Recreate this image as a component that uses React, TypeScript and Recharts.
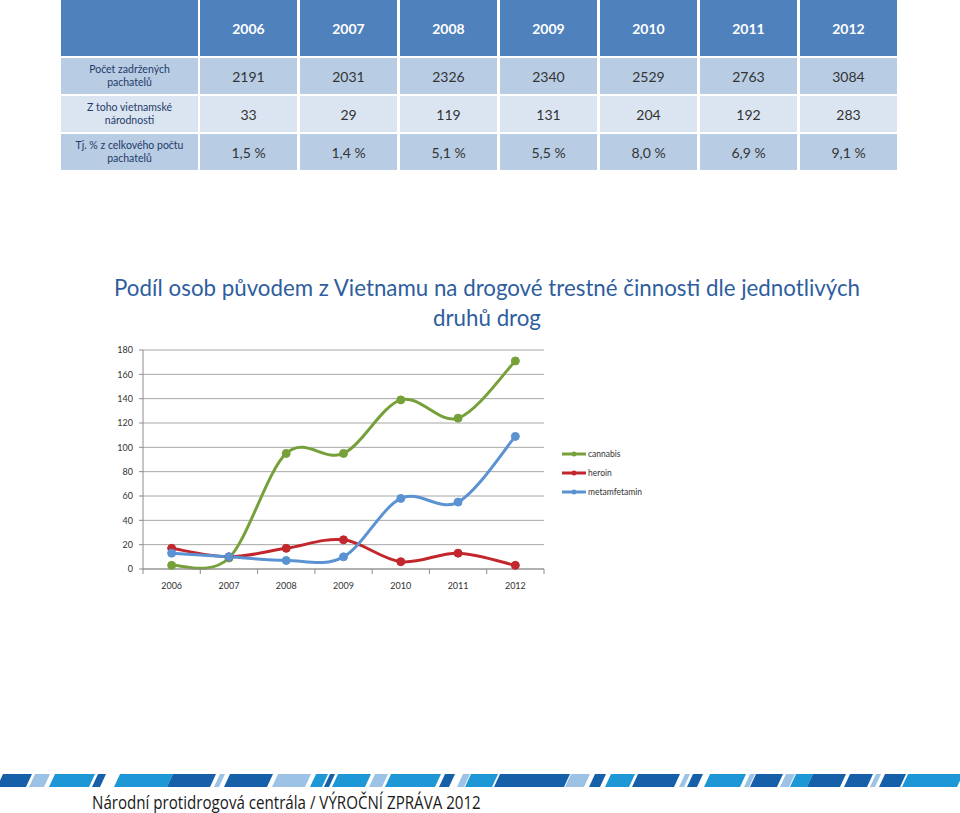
import React from 'react';
import { LineChart, Line, XAxis, YAxis, CartesianGrid, Legend } from 'recharts';

// table data
const years = ['2006', '2007', '2008', '2009', '2010', '2011', '2012'];
const rowLabels = [
  ['Počet zadržených', 'pachatelů'],
  ['Z toho vietnamské', 'národnosti'],
  ['Tj. % z celkového počtu', 'pachatelů'],
];
const arrested = ['2191', '2031', '2326', '2340', '2529', '2763', '3084'];
const vietnamese = ['33', '29', '119', '131', '204', '192', '283'];
const share = ['1,5 %', '1,4 %', '5,1 %', '5,5 %', '8,0 %', '6,9 %', '9,1 %'];

// chart series
const cannabis = [3, 9, 95, 95, 139, 124, 171];
const heroin = [17, 10, 17, 24, 6, 13, 3];
const metamfetamin = [13, 10, 7, 10, 58, 55, 109];
const yTicks = [0, 20, 40, 60, 80, 100, 120, 140, 160, 180];

const series = [
  { key: 'cannabis', color: '#76a13a' },
  { key: 'heroin', color: '#c1272d' },
  { key: 'metamfetamin', color: '#5a92d2' },
];

const data = years.map((year, i) => ({
  i,
  year,
  cannabis: cannabis[i],
  heroin: heroin[i],
  metamfetamin: metamfetamin[i],
}));

// category centres get labels, the half steps get the small tick marks
const xTicks = years.flatMap((_, i) => [i - 0.5, i]).concat(years.length - 0.5);

// footer stripe: [from, to, shade]
const stripe: [number, number, number][] = [
  [0, 29, 0], [32, 47, 2], [52, 92, 1], [95, 103, 0], [117, 170, 1], [170, 213, 0],
  [217, 222, 2], [227, 270, 0], [275, 308, 2], [313, 325, 1], [327, 332, 0],
  [335, 368, 1], [372, 385, 2], [388, 438, 1], [442, 452, 0], [460, 467, 2],
  [468, 495, 1], [497, 567, 0], [568, 587, 2], [592, 603, 0], [608, 632, 1],
  [635, 677, 0], [682, 687, 2], [690, 700, 0], [707, 743, 1], [747, 752, 2],
  [753, 780, 0], [783, 792, 2], [793, 810, 1], [810, 843, 0], [847, 870, 0],
  [873, 878, 2], [882, 903, 0], [905, 960, 1],
];
const stripeColors = ['#1560a9', '#1d97d5', '#9cc2e6'];

// Excel-like smoothed line (Catmull-Rom through the points)
const excelSmooth = (context: any) => {
  let pts: number[][] = [];
  return {
    areaStart() {},
    areaEnd() {},
    lineStart() {
      pts = [];
    },
    lineEnd() {
      if (!pts.length) return;
      context.moveTo(pts[0][0], pts[0][1]);
      for (let k = 0; k < pts.length - 1; k++) {
        const p0 = pts[Math.max(k - 1, 0)];
        const p1 = pts[k];
        const p2 = pts[k + 1];
        const p3 = pts[Math.min(k + 2, pts.length - 1)];
        context.bezierCurveTo(
          p1[0] + (p2[0] - p0[0]) / 6,
          p1[1] + (p2[1] - p0[1]) / 6,
          p2[0] - (p3[0] - p1[0]) / 6,
          p2[1] - (p3[1] - p1[1]) / 6,
          p2[0],
          p2[1]
        );
      }
    },
    point(x: number, y: number) {
      pts.push([+x, +y]);
    },
  };
};

const XTick = ({ x, y, payload }: any) => {
  const v = payload.value;
  if (Number.isInteger(v)) {
    return (
      <text x={x} y={y + 20} textAnchor="middle" fontSize={9} fill="#333">
        {years[v]}
      </text>
    );
  }
  return <line x1={x} x2={x} y1={y} y2={y + 5} stroke="#8c8c8c" />;
};

const LegendBox = () => (
  <div>
    {series.map((s) => (
      <div key={s.key} style={{ display: 'flex', alignItems: 'center', height: 19 }}>
        <svg width={24} height={8}>
          <line x1={0} x2={24} y1={4} y2={4} stroke={s.color} strokeWidth={3} />
          <circle cx={12} cy={4} r={2.5} fill={s.color} />
        </svg>
        <span style={{ fontSize: 8.5, color: '#333', marginLeft: 2 }}>{s.key}</span>
      </div>
    ))}
  </div>
);

const rowTops = [58, 96, 134];
const rowBg = ['#b8cce4', '#dbe5f1', '#b8cce4'];
const rowValues = [arrested, vietnamese, share];

const App: React.FC = () => {
  return (
    <div
      style={{
        position: 'absolute',
        left: 0,
        top: 0,
        width: 960,
        height: 813,
        background: '#fff',
        overflow: 'hidden',
        fontFamily: 'Lato, "Open Sans", sans-serif',
      }}
    >
      {/* table */}
      <div style={{ position: 'absolute', left: 61, top: 0, width: 137, height: 56, background: '#4f81bd' }} />
      {years.map((y, c) => (
        <div
          key={y}
          style={{
            position: 'absolute',
            left: 200 + c * 100,
            top: 0,
            width: 97,
            height: 56,
            background: '#4f81bd',
            color: '#fff',
            fontWeight: 700,
            fontSize: 14,
            display: 'flex',
            alignItems: 'center',
            justifyContent: 'center',
          }}
        >
          {y}
        </div>
      ))}
      {rowTops.map((top, r) => (
        <React.Fragment key={r}>
          <div
            style={{
              position: 'absolute',
              left: 61,
              top,
              width: 137,
              height: 36,
              background: rowBg[r],
              color: '#1f3b68',
              fontSize: 10.5,
              lineHeight: '13px',
              display: 'flex',
              flexDirection: 'column',
              alignItems: 'center',
              justifyContent: 'center',
              textAlign: 'center',
            }}
          >
            <span>{rowLabels[r][0]}</span>
            <span>{rowLabels[r][1]}</span>
          </div>
          {rowValues[r].map((v, c) => (
            <div
              key={c}
              style={{
                position: 'absolute',
                left: 200 + c * 100,
                top,
                width: 97,
                height: 36,
                background: rowBg[r],
                color: '#333',
                fontSize: 14,
                display: 'flex',
                alignItems: 'center',
                justifyContent: 'center',
              }}
            >
              {v}
            </div>
          ))}
        </React.Fragment>
      ))}

      {/* title */}
      <div
        style={{
          position: 'absolute',
          left: 87,
          top: 273,
          width: 800,
          textAlign: 'center',
          color: '#2e5e9e',
          fontSize: 22.3,
          lineHeight: '30px',
          whiteSpace: 'nowrap',
        }}
      >
        Podíl osob původem z Vietnamu na drogové trestné činnosti dle jednotlivých
        <br />
        druhů drog
      </div>

      {/* chart */}
      <div style={{ position: 'absolute', left: 100, top: 340 }}>
        <LineChart width={580} height={262} data={data} margin={{ top: 10, right: 136, left: 0, bottom: 0 }}>
          <CartesianGrid vertical={false} stroke="#a6a6a6" />
          <XAxis
            dataKey="i"
            type="number"
            domain={[-0.5, 6.5]}
            ticks={xTicks}
            interval={0}
            tick={<XTick />}
            tickLine={false}
            tickSize={0}
            tickMargin={0}
            height={33}
            axisLine={{ stroke: '#8c8c8c' }}
          />
          <YAxis
            type="number"
            domain={[0, 180]}
            ticks={yTicks}
            interval={0}
            width={43}
            tickSize={4}
            tickMargin={6}
            tickLine={{ stroke: '#8c8c8c' }}
            axisLine={{ stroke: '#8c8c8c' }}
            tick={{ fontSize: 9, fill: '#333' }}
          />
          <Legend
            layout="vertical"
            align="center"
            verticalAlign="middle"
            content={<LegendBox />}
            wrapperStyle={{ left: 462, top: 104, width: 110 }}
          />
          {series.map((s) => (
            <Line
              key={s.key}
              dataKey={s.key}
              name={s.key}
              type={excelSmooth as any}
              stroke={s.color}
              strokeWidth={3}
              dot={{ r: 4, fill: s.color, stroke: s.color, strokeWidth: 1 }}
              activeDot={false}
              isAnimationActive={false}
            />
          ))}
        </LineChart>
      </div>

      {/* footer */}
      <svg style={{ position: 'absolute', left: 0, top: 774 }} width={960} height={13}>
        {stripe.map(([a, b, c], k) => (
          <polygon
            key={k}
            points={`${a + 3},0 ${b + 3},0 ${b - 3},13 ${a - 3},13`}
            fill={stripeColors[c]}
          />
        ))}
      </svg>
      <div
        style={{
          position: 'absolute',
          left: 92,
          top: 792,
          fontFamily: '"Open Sans", sans-serif',
          fontSize: 18,
          lineHeight: '20px',
          color: '#1a1a1a',
          whiteSpace: 'nowrap',
          transform: 'scaleX(0.84)',
          transformOrigin: 'left center',
        }}
      >
        Národní protidrogová centrála / VÝROČNÍ ZPRÁVA 2012
      </div>
    </div>
  );
};

export default App;
